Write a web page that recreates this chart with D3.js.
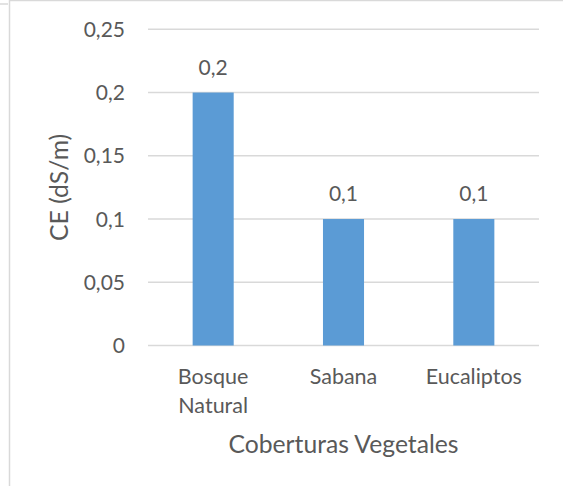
<!DOCTYPE html>
<html lang="es">
<head>
	<meta charset="UTF-8">
	<title>CE por cobertura</title>
	<style>
		body { margin: 0; background: #fff; }
		text { font-family: Lato, sans-serif; fill: #595959; }
		.grid line { stroke: #d9d9d9; stroke-width: 1.5; }
		.bar { fill: #5b9bd5; }
	</style>
	<script src="https://cdn.jsdelivr.net/npm/d3@7"></script>
</head>
<body>
<script>
	var categories = ["Bosque Natural", "Sabana", "Eucaliptos"];
	var catLines = [["Bosque", "Natural"], ["Sabana"], ["Eucaliptos"]];
	var values = [0.2, 0.1, 0.1];
	var valueLabels = ["0,2", "0,1", "0,1"];
	var yTicks = [0, 0.05, 0.1, 0.15, 0.2, 0.25];
	var yTickLabels = ["0", "0,05", "0,1", "0,15", "0,2", "0,25"];
	var xTitle = "Coberturas Vegetales";
	var yTitle = "CE (dS/m)";

	var W = 563, H = 486;
	var plotLeft = 148, plotRight = 539, plotTop = 29.3, plotBottom = 345.5;

	var svg = d3.select("body").append("svg")
		.attr("width", W)
		.attr("height", H);

	// chart frame edges
	svg.append("line").attr("x1", 9.5).attr("x2", 9.5).attr("y1", 0).attr("y2", H)
		.attr("stroke", "#d9d9d9").attr("stroke-width", 1.5);
	svg.append("line").attr("x1", 9.5).attr("x2", W).attr("y1", 0.5).attr("y2", 0.5)
		.attr("stroke", "#d9d9d9").attr("stroke-width", 1.5);
	svg.append("line").attr("x1", 0).attr("x2", 8).attr("y1", 4).attr("y2", 4)
		.attr("stroke", "#d9d9d9").attr("stroke-width", 1.5);

	var x = d3.scaleBand()
		.domain(categories)
		.range([plotLeft, plotRight])
		.paddingInner(0.685)
		.paddingOuter(0.3425);

	var y = d3.scaleLinear()
		.domain([0, 0.25])
		.range([plotBottom, plotTop]);

	svg.append("g")
		.attr("class", "grid")
		.selectAll("line")
		.data(yTicks)
		.enter().append("line")
		.attr("x1", plotLeft)
		.attr("x2", plotRight)
		.attr("y1", function(d) { return y(d); })
		.attr("y2", function(d) { return y(d); });

	svg.append("g")
		.selectAll("text")
		.data(yTicks)
		.enter().append("text")
		.attr("x", 125)
		.attr("y", function(d) { return y(d); })
		.attr("dy", "0.36em")
		.attr("text-anchor", "end")
		.style("font-size", "21px")
		.text(function(d, i) { return yTickLabels[i]; });

	svg.append("g")
		.selectAll("rect")
		.data(values)
		.enter().append("rect")
		.attr("class", "bar")
		.attr("x", function(d, i) { return x(categories[i]); })
		.attr("width", x.bandwidth())
		.attr("y", function(d) { return y(d); })
		.attr("height", function(d) { return plotBottom - y(d); });

	svg.append("g")
		.selectAll("text")
		.data(values)
		.enter().append("text")
		.attr("x", function(d, i) { return x(categories[i]) + x.bandwidth() / 2; })
		.attr("y", function(d) { return y(d) - 18; })
		.attr("text-anchor", "middle")
		.style("font-size", "21px")
		.text(function(d, i) { return valueLabels[i]; });

	var cat = svg.append("g")
		.selectAll("text")
		.data(categories)
		.enter().append("text")
		.attr("text-anchor", "middle")
		.style("font-size", "21.5px");
	cat.selectAll("tspan")
		.data(function(d, i) { return catLines[i].map(function(s) { return {s: s, c: d}; }); })
		.enter().append("tspan")
		.attr("x", function(d) { return x(d.c) + x.bandwidth() / 2; })
		.attr("y", function(d, j) { return 384 + j * 29; })
		.text(function(d) { return d.s; });

	svg.append("text")
		.attr("x", (plotLeft + plotRight) / 2)
		.attr("y", 453)
		.attr("text-anchor", "middle")
		.style("font-size", "24.7px")
		.text(xTitle);

	svg.append("text")
		.attr("transform", "translate(68," + ((plotTop + plotBottom) / 2) + ") rotate(-90)")
		.attr("text-anchor", "middle")
		.style("font-size", "24.7px")
		.text(yTitle);
</script>
</body>
</html>
